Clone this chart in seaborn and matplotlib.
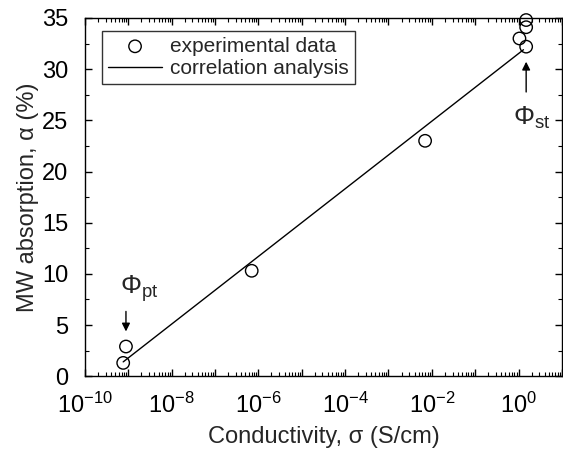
import numpy as np
import pandas as pd
import matplotlib
matplotlib.use("Agg")
import matplotlib.pyplot as plt
import matplotlib.ticker as mticker
import seaborn as sns

# measured points (conductivity S/cm, MW absorption %)
sigma = [7.6e-10, 8.8e-10, 7.0e-7, 7.0e-3, 1.05, 1.5, 1.5, 1.5]
alpha = [1.3, 2.9, 10.3, 23.0, 33.0, 34.8, 34.1, 32.2]

# correlation line end points
fit_sigma = [7.6e-10, 1.3]
fit_alpha = [1.4, 31.9]

xtick_exp = [-10, -8, -6, -4, -2, 0]
ytick_vals = [0, 5, 10, 15, 20, 25, 30, 35]

sns.set_style("ticks")
plt.rcParams['font.family'] = ['Liberation Sans', 'DejaVu Sans']
plt.rcParams['mathtext.fontset'] = 'custom'
plt.rcParams['mathtext.rm'] = 'Liberation Sans'
plt.rcParams['mathtext.it'] = 'Liberation Sans'

df = pd.DataFrame({"sigma": sigma, "alpha": alpha})
fit = pd.DataFrame({"sigma": fit_sigma, "alpha": fit_alpha})

fig = plt.figure(figsize=(5.63, 4.5), dpi=100)
ax = fig.add_axes([0.151, 0.164, 0.847, 0.796])

sns.lineplot(data=fit, x="sigma", y="alpha", color="black", lw=1.0,
             label="correlation analysis", ax=ax)
sns.scatterplot(data=df, x="sigma", y="alpha", marker="o", s=80,
                facecolor="none", edgecolor="black", linewidth=1.0,
                label="experimental data", ax=ax, zorder=3, clip_on=False)

ax.set_xscale("log")
ax.set_xlim(1e-10, 1e1)
ax.set_ylim(0, 35)

ax.xaxis.set_major_locator(mticker.LogLocator(base=10, numticks=20))
ax.xaxis.set_minor_locator(mticker.LogLocator(base=10, subs=np.arange(2, 10), numticks=20))
ax.xaxis.set_major_formatter(mticker.FuncFormatter(
    lambda v, p: r"$10^{%d}$" % round(np.log10(v)) if round(np.log10(v)) in xtick_exp else ""))
ax.set_yticks(ytick_vals)
ax.yaxis.set_minor_locator(mticker.MultipleLocator(2.5))

ax.tick_params(which="both", direction="in", top=True, right=True, labelsize=17, colors="black")
ax.tick_params(which="major", length=5, width=1)
ax.tick_params(which="minor", length=3, width=0.8)
ax.tick_params(axis="x", pad=12)
ax.tick_params(axis="y", pad=12)
for s in ax.spines.values():
    s.set_color("black")
    s.set_linewidth(1.0)

ax.set_xlabel("Conductivity, σ (S/cm)", fontsize=17, labelpad=6)
ax.set_ylabel("MW absorption, α (%)", fontsize=17, labelpad=2)

# phase markers
ax.annotate("", xy=(8.8e-10, 4.1), xytext=(8.8e-10, 6.6),
            arrowprops=dict(arrowstyle="-|>", color="black", lw=1, mutation_scale=12))
ax.text(6.5e-10, 8.6, r"$\Phi_{\rm pt}$", fontsize=19, ha="left", va="center")
ax.annotate("", xy=(1.5, 31.0), xytext=(1.5, 27.5),
            arrowprops=dict(arrowstyle="-|>", color="black", lw=1, mutation_scale=12))
ax.text(0.75, 25.2, r"$\Phi_{\rm st}$", fontsize=19, ha="left", va="center")

h, l = ax.get_legend_handles_labels()
leg = ax.legend(h[::-1], l[::-1], loc="upper left", bbox_to_anchor=(0.035, 0.965),
                fontsize=15, frameon=True, fancybox=False, edgecolor="black",
                borderaxespad=0.0, borderpad=0.3, handlelength=2.6, handletextpad=0.4,
                labelspacing=0.15)
leg.get_frame().set_linewidth(1.0)

fig.savefig("out.png", dpi=100)
